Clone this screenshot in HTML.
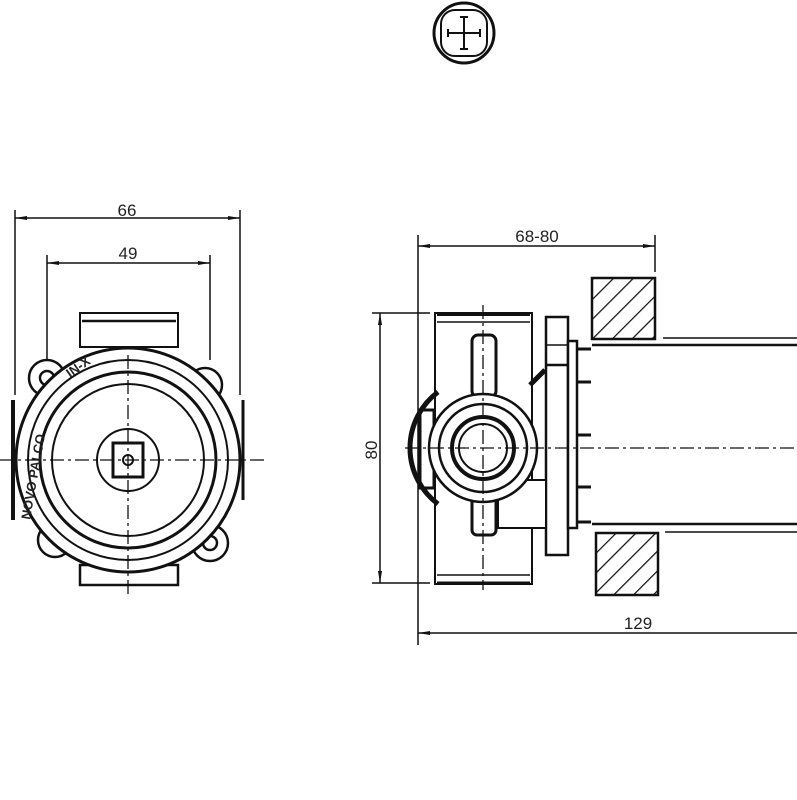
<!DOCTYPE html>
<html><head><meta charset="utf-8"><style>
html,body{margin:0;padding:0;background:#fff;width:797px;height:800px;overflow:hidden}
svg{display:block}
text{font-family:"Liberation Sans",sans-serif;font-size:17px;fill:#222}
</style></head><body>
<svg width="797" height="800" viewBox="0 0 797 800" xmlns="http://www.w3.org/2000/svg">
<defs>
<pattern id="h" patternUnits="userSpaceOnUse" width="14" height="14" patternTransform="rotate(45)">
<line x1="0" y1="0" x2="0" y2="14" stroke="#111" stroke-width="2.5"/>
</pattern>
<marker id="a" viewBox="0 0 12 6" refX="12" refY="3" markerWidth="12" markerHeight="6" orient="auto-start-reverse" markerUnits="userSpaceOnUse"><path d="M0,1 L12,3 L0,5z" fill="#111"/></marker>
</defs>
<g fill="none" stroke="#111" stroke-width="2">
<!-- top symbol -->
<circle cx="464" cy="33" r="30" stroke-width="3"/>
<rect x="441" y="10" width="46" height="46" rx="14" stroke-width="2"/>
<line x1="448" y1="33" x2="480" y2="33"/>
<line x1="464" y1="17" x2="464" y2="49"/>
<line x1="448" y1="29" x2="448" y2="37"/><line x1="480" y1="29" x2="480" y2="37"/>
<line x1="460" y1="17" x2="468" y2="17"/><line x1="460" y1="49" x2="468" y2="49"/>

<!-- LEFT VIEW dims -->
<g stroke-width="1.5">
<line x1="15" y1="210" x2="15" y2="395"/>
<line x1="240" y1="210" x2="240" y2="395"/>
<line x1="47" y1="255" x2="47" y2="360"/>
<line x1="210" y1="255" x2="210" y2="360"/>
<line x1="15" y1="218" x2="240" y2="218" marker-start="url(#a)" marker-end="url(#a)"/>
<line x1="47" y1="263" x2="210" y2="263" marker-start="url(#a)" marker-end="url(#a)"/>
</g>
<!-- left body -->
<rect x="80" y="313" width="98" height="34" stroke-width="2"/>
<line x1="82" y1="321" x2="176" y2="321" stroke-width="2.5"/>
<rect x="80" y="565" width="98" height="20" stroke-width="2.5"/>
<circle cx="47" cy="378" r="18" stroke-width="2.5"/>
<circle cx="47" cy="378" r="7" stroke-width="2.5"/>
<circle cx="205" cy="385" r="17" stroke-width="2.5"/>
<circle cx="55" cy="540" r="17" stroke-width="2.5"/>
<circle cx="210" cy="543" r="18" stroke-width="2.5"/>
<circle cx="210" cy="543" r="7" stroke-width="2.5"/>
<circle cx="128" cy="460" r="112" fill="#fff" stroke-width="3"/>
<line x1="13" y1="400" x2="13" y2="520" stroke-width="4"/>
<line x1="243" y1="400" x2="243" y2="500" stroke-width="3"/>
<circle cx="128" cy="460" r="100" stroke-width="2"/>
<circle cx="128" cy="460" r="88" stroke-width="3"/>
<circle cx="128" cy="460" r="76" stroke-width="2"/>
<circle cx="128" cy="460" r="31" stroke-width="2"/>
<rect x="113" y="443" width="30" height="34" stroke-width="3"/>
<circle cx="128" cy="460" r="5" stroke-width="2"/>
<text x="0" y="0" transform="translate(30,520) rotate(-80)" stroke="none" style="font-size:13px;font-weight:bold">NOVO PALCO</text>
<text x="0" y="0" transform="translate(70,378) rotate(-35)" stroke="none" style="font-size:13px;font-weight:bold">IN-X</text>
<g stroke-width="1.3" stroke-dasharray="14,4,3,4">
<line x1="0" y1="460" x2="265" y2="460"/>
<line x1="128" y1="355" x2="128" y2="597"/>
</g>

<!-- RIGHT VIEW dims -->
<g stroke-width="1.5">
<line x1="418" y1="235" x2="418" y2="645"/>
<line x1="655" y1="235" x2="655" y2="272"/>
<line x1="418" y1="246" x2="655" y2="246" marker-start="url(#a)" marker-end="url(#a)"/>
<line x1="372" y1="313" x2="430" y2="313"/>
<line x1="372" y1="583" x2="430" y2="583"/>
<line x1="380" y1="313" x2="380" y2="583" marker-start="url(#a)" marker-end="url(#a)"/>
<line x1="418" y1="633" x2="797" y2="633" marker-start="url(#a)"/>
</g>
<!-- hatched -->
<rect x="592" y="278" width="63" height="61" fill="url(#h)" stroke-width="2.5"/>
<rect x="596" y="533" width="62" height="62" fill="url(#h)" stroke-width="2.5"/>
<!-- pipe -->
<line x1="663" y1="338" x2="797" y2="338" stroke-width="1.5"/>
<line x1="592" y1="345" x2="797" y2="345" stroke-width="2.5"/>
<line x1="592" y1="524" x2="797" y2="524" stroke-width="2.5"/>
<line x1="665" y1="532" x2="797" y2="532" stroke-width="1.5"/>
<!-- body -->
<rect x="435" y="313" width="97" height="271" stroke-width="2"/>
<line x1="437" y1="314" x2="530" y2="314" stroke-width="4"/>
<line x1="437" y1="322" x2="530" y2="322" stroke-width="1.5"/>
<line x1="437" y1="575" x2="530" y2="575" stroke-width="1.5"/>
<line x1="437" y1="583" x2="530" y2="583" stroke-width="3"/>
<rect x="546" y="317" width="22" height="238" fill="#fff" stroke-width="2.5"/>
<line x1="546" y1="345" x2="568" y2="345" stroke-width="1.5"/>
<line x1="546" y1="365" x2="568" y2="365" stroke-width="2.5"/>
<rect x="568" y="341" width="9" height="187" fill="#fff" stroke-width="2.5"/>
<g stroke-width="3">
<line x1="577" y1="349" x2="591" y2="349"/><line x1="577" y1="382" x2="591" y2="382"/>
<line x1="577" y1="435" x2="591" y2="435"/><line x1="577" y1="487" x2="591" y2="487"/>
<line x1="577" y1="522" x2="591" y2="522"/>
</g>
<rect x="498" y="480" width="48" height="48" fill="#fff" stroke-width="2"/>
<rect x="420" y="410" width="14" height="78" fill="#fff" stroke-width="3"/>
<path d="M438,392 A70,70 0 0 0 438,504" stroke-width="5"/>
<path d="M530,385 L545,370" stroke-width="5"/>
<rect x="472" y="335" width="24" height="62" rx="6" fill="#fff" stroke-width="3"/>
<rect x="472" y="495" width="24" height="40" rx="5" fill="#fff" stroke-width="3"/>
<circle cx="483" cy="448" r="54" fill="#fff" stroke-width="2.5"/>
<circle cx="483" cy="448" r="44" stroke-width="2.5"/>
<circle cx="483" cy="448" r="31" stroke-width="4"/>
<circle cx="483" cy="448" r="24" stroke-width="2"/>
<g stroke-width="1.3" stroke-dasharray="14,4,3,4">
<line x1="405" y1="448" x2="797" y2="448"/>
<line x1="483" y1="305" x2="483" y2="590"/>
</g>
</g>
<text x="127" y="216" text-anchor="middle">66</text>
<text x="128" y="259" text-anchor="middle">49</text>
<text x="537" y="242" text-anchor="middle">68-80</text>
<text x="638" y="629" text-anchor="middle">129</text>
<text x="0" y="0" transform="translate(377,450) rotate(-90)" text-anchor="middle">80</text>
</svg>
</body></html>
